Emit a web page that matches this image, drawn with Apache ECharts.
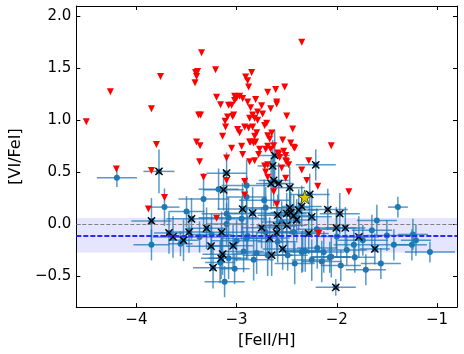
<!DOCTYPE html>
<html>
<head>
    <meta charset="utf-8">
    <script src="https://cdn.jsdelivr.net/npm/echarts@6/dist/echarts.min.js"></script>
    <style>
        html, body { margin: 0; padding: 0; background: #fff; }
        #chart { width: 464px; height: 354px; }
    </style>
</head>
<body>
<div id="chart"></div>
<script>
    // upper limits [FeII/H, VI/FeI]
    var redLimits = [
        [-4.50,0.985],[-4.26,1.275],[-3.85,1.11],[-3.76,1.42],[-3.80,0.765],[-4.20,0.53],[-3.85,0.515],[-3.72,0.255],[-3.88,0.145],
        [-3.35,1.65],[-3.41,1.46],[-3.39,1.47],[-3.40,1.42],[-3.415,1.36],[-3.38,1.05],[-3.36,1.05],[-3.40,0.79],[-3.365,0.755],
        [-3.21,1.485],[-3.20,1.22],[-3.16,1.15],[-3.08,1.145],[-3.05,1.145],[-3.02,1.23],[-3.00,1.215],[-3.02,1.19],[-3.115,0.99],
        [-3.09,1.03],[-3.04,1.035],[-3.03,1.05],[-3.11,0.935],[-3.14,0.845],
        [-2.35,1.75],[-2.85,1.46],[-2.91,1.415],[-2.89,1.38],[-2.88,1.32],[-2.97,1.23],[-2.94,1.21],[-2.89,1.175],[-2.81,1.20],
        [-2.69,1.27],[-2.61,1.295],[-2.52,1.32],[-2.60,1.175],[-2.60,1.155],[-2.66,1.11],[-2.75,1.14],[-2.86,1.12],[-2.79,1.08],
        [-2.84,1.05],[-2.74,1.06],[-2.87,1.02],[-2.82,1.02],[-2.79,1.00],[-2.50,1.04],[-2.72,0.95],[-2.70,0.97],[-2.92,0.935],
        [-2.88,0.925],[-2.84,0.935],[-2.97,0.88],[-2.80,0.88],[-2.44,0.915],[-2.82,0.845],[-2.69,0.85],[-2.65,0.877],[-2.87,0.79],
        [-2.81,0.79],[-2.67,0.82],[-2.54,0.81],[-2.46,0.78],[-2.42,0.73],[-2.95,0.75],[-2.77,0.72],[-2.69,0.75],[-2.055,0.755],
        [-2.94,0.67],[-2.78,0.67],[-2.59,0.685],[-2.57,0.64],[-2.51,0.66],[-2.87,0.60],[-2.51,0.61],[-2.48,0.57],[-2.28,0.61],
        [-2.35,0.52],[-2.69,0.57],[-2.99,0.91],[-2.86,0.79],[-2.83,0.78],[-2.82,0.61],[-2.71,0.72],[-2.66,0.72],[-2.72,0.56],
        [-2.71,0.50],[-2.69,0.45],[-2.63,0.755],[-2.58,0.675],[-2.53,0.70],[-2.50,0.60],[-2.43,0.74],[-2.55,0.54],[-2.51,0.44],
        [-2.63,0.31],[-2.60,0.19],[-2.92,0.41],[-3.10,0.635],[-3.33,0.45],[-3.10,0.42],[-2.92,0.28],[-3.20,0.055],[-2.30,0.42],
        [-2.19,0.365],[-1.88,0.31],[-2.18,-0.09],[-3.37,0.60],[-3.05,0.73]
    ];

    // detections [FeII/H, VI/FeI, xerr, yerr]
    var bluePts = [
        [-4.195,0.446,0.20,0.09],[-3.72,0.163,0.15,0.18],[-3.85,-0.20,0.18,0.15],[-3.50,0.12,0.18,0.15],[-3.56,-0.19,0.12,0.12],
        [-3.33,0.24,0.25,0.25],[-3.18,0.335,0.20,0.20],[-3.12,-0.555,0.20,0.15],[-3.37,-0.125,0.25,0.15],[-3.10,0.10,0.25,0.20],
        [-3.02,-0.43,0.15,0.15],[-3.165,-0.37,0.15,0.20],[-2.90,0.37,0.25,0.25],[-2.90,0.26,0.20,0.20],[-2.725,0.23,0.25,0.20],
        [-2.71,0.157,0.20,0.20],[-3.08,0.06,0.30,0.20],[-3.10,0.00,0.20,0.20],[-2.83,-0.344,0.20,0.20],[-2.69,-0.30,0.25,0.20],
        [-2.49,-0.30,0.20,0.15],[-2.34,-0.26,0.20,0.20],[-2.15,-0.36,0.20,0.20],[-2.07,-0.32,0.20,0.15],[-3.08,-0.33,0.20,0.20],
        [-2.93,-0.265,0.20,0.20],[-2.90,-0.14,0.25,0.20],[-1.39,0.163,0.10,0.10],[-1.60,0.035,0.20,0.15],[-1.74,-0.156,0.25,0.15],
        [-1.71,-0.44,0.20,0.15],[-1.56,-0.38,0.20,0.15],[-1.96,-0.40,0.20,0.15],[-2.055,-0.315,0.20,0.20],[-2.25,-0.347,0.20,0.20],
        [-2.315,-0.26,0.20,0.20],[-1.43,-0.20,0.20,0.15],[-1.24,-0.10,0.15,0.15],[-1.25,-0.20,0.15,0.15],[-1.07,-0.27,0.25,0.10],
        [-1.21,-0.156,0.15,0.15],[-1.50,-0.11,0.20,0.15],[-2.13,-0.27,0.20,0.20],[-2.195,-0.23,0.20,0.20],[-1.83,-0.20,0.20,0.15],
        [-2.89,-0.115,0.25,0.20],[-2.80,-0.28,0.20,0.20],[-2.71,-0.077,0.25,0.20],[-2.59,-0.17,0.20,0.20],[-2.35,-0.27,0.20,0.20],
        [-2.43,-0.077,0.25,0.20],[-2.95,0.05,0.25,0.20],[-2.55,0.02,0.20,0.20],[-2.20,-0.05,0.20,0.20],[-2.00,-0.12,0.20,0.20],
        [-1.90,-0.25,0.20,0.15],[-1.65,-0.06,0.20,0.15],[-1.82,-0.32,0.20,0.15],[-2.42,-0.38,0.20,0.20],[-3.25,-0.10,0.20,0.20],
        [-3.00,-0.16,0.25,0.20]
    ];

    // detections marked with a cross [FeII/H, VI/FeI, xerr, yerr]
    var crossPts = [
        [-3.775,0.507,0.155,0.21],[-3.85,0.03,0.20,0.22],[-3.45,0.05,0.25,0.20],[-3.675,-0.086,0.15,0.20],[-3.635,-0.124,0.20,0.20],
        [-3.53,-0.156,0.15,0.20],[-3.475,-0.077,0.20,0.20],[-3.13,0.33,0.20,0.20],[-3.30,-0.04,0.20,0.20],[-3.15,-0.08,0.20,0.20],
        [-3.255,-0.213,0.25,0.20],[-3.14,-0.29,0.20,0.20],[-3.155,-0.33,0.20,0.20],[-3.235,-0.42,0.20,0.20],[-3.035,-0.21,0.20,0.20],
        [-3.10,0.49,0.20,0.20],[-2.94,0.145,0.25,0.25],[-2.84,0.105,0.25,0.25],[-2.62,0.66,0.15,0.25],[-2.64,0.56,0.15,0.25],
        [-2.63,0.42,0.15,0.25],[-2.655,0.39,0.15,0.25],[-2.58,0.39,0.15,0.20],[-2.47,0.35,0.15,0.20],[-2.21,0.57,0.20,0.15],
        [-2.27,0.285,0.20,0.20],[-2.47,0.157,0.20,0.20],[-2.46,0.11,0.20,0.20],[-2.43,0.08,0.20,0.20],[-2.50,0.10,0.20,0.20],
        [-2.38,0.135,0.20,0.20],[-2.35,0.17,0.20,0.20],[-2.25,0.07,0.20,0.20],[-2.09,0.14,0.20,0.20],[-1.97,0.10,0.20,0.20],
        [-2.005,-0.037,0.20,0.20],[-1.915,-0.037,0.20,0.20],[-1.78,-0.124,0.20,0.20],[-1.62,-0.24,0.15,0.15],[-2.59,0.085,0.20,0.20],
        [-2.75,-0.035,0.20,0.20],[-2.60,-0.02,0.20,0.20],[-2.67,-0.135,0.20,0.20],[-2.60,-0.085,0.20,0.20],[-2.50,-0.012,0.20,0.20],
        [-2.28,-0.09,0.20,0.20],[-2.54,-0.24,0.20,0.20],[-2.65,-0.30,0.20,0.20],[-2.40,0.04,0.20,0.20],[-2.01,-0.61,0.20,0.08]
    ];

    var starPt = [[-2.32, 0.26]];

    var meanLevel = -0.108;
    var bandLow = -0.273, bandHigh = 0.057;
    var xTicks = [-4, -3, -2, -1];
    var yTicks = [-0.5, 0, 0.5, 1, 1.5, 2];

    function minus(s) { return String(s).replace('-', '\u2212'); }

    var errColor = 'rgba(31,119,180,0.75)';
    var allErr = bluePts.concat(crossPts);

    function errRender(params, api) {
        var x = api.value(0), y = api.value(1), ex = api.value(2), ey = api.value(3);
        var l = api.coord([x - ex, y]), r = api.coord([x + ex, y]);
        var t = api.coord([x, y + ey]), b = api.coord([x, y - ey]);
        var st = { stroke: errColor, lineWidth: 1.5 };
        return {
            type: 'group',
            children: [
                { type: 'line', shape: { x1: l[0], y1: l[1], x2: r[0], y2: r[1] }, style: st },
                { type: 'line', shape: { x1: t[0], y1: t[1], x2: b[0], y2: b[1] }, style: st }
            ]
        };
    }

    function crossRender(params, api) {
        var p = api.coord([api.value(0), api.value(1)]);
        var d = 3.6;
        var st = { stroke: '#000', lineWidth: 1.4 };
        return {
            type: 'group',
            children: [
                { type: 'line', shape: { x1: p[0] - d, y1: p[1] - d, x2: p[0] + d, y2: p[1] + d }, style: st },
                { type: 'line', shape: { x1: p[0] - d, y1: p[1] + d, x2: p[0] + d, y2: p[1] - d }, style: st }
            ]
        };
    }

    var chart = echarts.init(document.getElementById('chart'));
    var font = 'DejaVu Sans';
    var axisCommon = {
        type: 'value',
        splitLine: { show: false },
        axisLine: { show: true, onZero: false, lineStyle: { color: '#000', width: 1 } }
    };

    var option = {
        animation: false,
        backgroundColor: '#fff',
        grid: { left: 68, right: 7, top: 6, bottom: 45 },
        xAxis: [
            Object.assign({}, axisCommon, {
                position: 'bottom', min: -4.6, max: -0.8,
                name: '[FeII/H]', nameLocation: 'middle', nameGap: 20,
                nameTextStyle: { fontFamily: font, fontSize: 16, color: '#000' },
                axisTick: { inside: true, length: 4, customValues: xTicks, lineStyle: { color: '#000' } },
                axisLabel: { customValues: xTicks, fontFamily: font, fontSize: 15, color: '#000', margin: 6,
                    formatter: function (v) { return minus(v); } }
            }),
            Object.assign({}, axisCommon, {
                position: 'top', min: -4.6, max: -0.8,
                axisTick: { inside: true, length: 4, customValues: xTicks, lineStyle: { color: '#000' } },
                axisLabel: { show: false }
            })
        ],
        yAxis: [
            Object.assign({}, axisCommon, {
                position: 'left', min: -0.8, max: 2.1,
                name: '[VI/FeI]', nameLocation: 'middle', nameGap: 45,
                nameTextStyle: { fontFamily: font, fontSize: 16, color: '#000' },
                axisTick: { inside: true, length: 4, customValues: yTicks, lineStyle: { color: '#000' } },
                axisLabel: { customValues: yTicks, fontFamily: font, fontSize: 15, color: '#000', margin: 5,
                    formatter: function (v) { return minus(v.toFixed(1)); } }
            }),
            Object.assign({}, axisCommon, {
                position: 'right', min: -0.8, max: 2.1,
                axisTick: { inside: true, length: 4, customValues: yTicks, lineStyle: { color: '#000' } },
                axisLabel: { show: false }
            })
        ],
        series: [
            {
                type: 'line', data: [], silent: true, z: 1,
                markArea: {
                    silent: true,
                    itemStyle: { color: 'rgba(0,0,255,0.1)' },
                    data: [[{ yAxis: bandLow }, { yAxis: bandHigh }]]
                }
            },
            {
                type: 'custom', renderItem: errRender, data: allErr, z: 2,
                encode: { x: 0, y: 1 }
            },
            {
                type: 'scatter', data: allErr.map(function (d) { return [d[0], d[1]]; }),
                symbol: 'circle', symbolSize: 6, itemStyle: { color: '#1f77b4', opacity: 1 }, z: 3
            },
            {
                type: 'custom', renderItem: crossRender, data: crossPts, z: 4,
                encode: { x: 0, y: 1 }
            },
            {
                type: 'line', data: [], silent: true, z: 5,
                markLine: {
                    silent: true, symbol: 'none', label: { show: false },
                    data: [
                        { yAxis: 0, lineStyle: { color: '#808080', type: [4, 2], width: 1.2 } },
                        { yAxis: meanLevel, lineStyle: { color: '#2b2bf5', type: [5, 2], width: 2 } }
                    ]
                }
            },
            {
                type: 'scatter', data: redLimits, symbol: 'triangle', symbolRotate: 180, symbolSize: 7,
                itemStyle: { color: '#ff0000', opacity: 1 }, z: 6
            },
            {
                type: 'scatter', data: starPt,
                symbol: 'path://M50,0 L61,35 L98,35 L68,57 L79,91 L50,70 L21,91 L32,57 L2,35 L39,35 Z',
                symbolSize: 14, itemStyle: { color: '#cccc00', borderColor: '#000', borderWidth: 0.6, opacity: 1 }, z: 7
            }
        ]
    };
    chart.setOption(option);
</script>
</body>
</html>
